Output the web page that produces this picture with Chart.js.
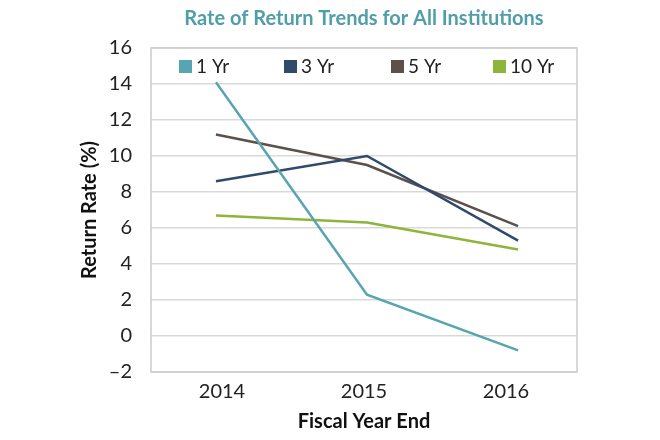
<!DOCTYPE html>
<html>
<head>
<meta charset="utf-8">
<script src="https://cdn.jsdelivr.net/npm/chart.js@4"></script>
<style>
  html, body { margin: 0; padding: 0; background: #fff; }
  #wrap { width: 660px; height: 440px; }
</style>
</head>
<body>
<div id="wrap"><canvas id="c" width="660" height="440"></canvas></div>
<script>
const categories = ['2014', '2015', '2016'];
const seriesNames = ['1 Yr', '3 Yr', '5 Yr', '10 Yr'];
const oneYr = [14.1, 2.3, -0.8];
const threeYr = [8.6, 10.0, 5.3];
const fiveYr = [11.2, 9.5, 6.1];
const tenYr = [6.7, 6.3, 4.8];
const seriesColors = ['#57a5b1', '#2f4a6c', '#5b504c', '#8db53a'];
const yTicks = [-2, 0, 2, 4, 6, 8, 10, 12, 14, 16];

const allSeries = [oneYr, threeYr, fiveYr, tenYr];
const datasets = allSeries.map((vals, i) => ({
  label: seriesNames[i],
  data: vals.map((v, j) => ({ x: j, y: v })),
  borderColor: seriesColors[i],
  backgroundColor: seriesColors[i],
  borderWidth: 2.5,
  pointRadius: 0,
  tension: 0,
  xAxisID: 'xd',
  yAxisID: 'y'
}));

const FONT = 'Lato, "Open Sans", sans-serif';

const frame = {
  id: 'frame',
  afterDatasetsDraw(chart) {
    const { ctx, chartArea: a } = chart;
    ctx.save();
    ctx.strokeStyle = '#cccccc';
    ctx.lineWidth = 1.5;
    ctx.strokeRect(a.left, a.top, a.right - a.left, a.bottom - a.top);
    const items = [
      { x: 179, text: seriesNames[0], c: seriesColors[0] },
      { x: 284, text: seriesNames[1], c: seriesColors[1] },
      { x: 391, text: seriesNames[2], c: seriesColors[2] },
      { x: 493, text: seriesNames[3], c: seriesColors[3] }
    ];
    ctx.font = '19px ' + FONT;
    ctx.textBaseline = 'middle';
    ctx.textAlign = 'left';
    items.forEach(it => {
      ctx.fillStyle = it.c;
      ctx.fillRect(it.x, 60, 13, 13);
      ctx.fillStyle = '#222';
      ctx.fillText(it.text, it.x + 17, 67);
    });
    ctx.restore();
  }
};

new Chart(document.getElementById('c'), {
  type: 'line',
  data: { labels: categories, datasets },
  plugins: [frame],
  options: {
    responsive: false,
    animation: false,
    layout: { padding: { left: 0, right: 83, top: 0, bottom: 0 } },
    plugins: {
      legend: { display: false },
      tooltip: { enabled: false },
      title: {
        display: true,
        text: 'Rate of Return Trends for All Institutions',
        color: '#4f9ea9',
        fullSize: false,
        font: { family: FONT, size: 20, weight: 'bold', lineHeight: 1.2 },
        padding: { top: 7, bottom: 17 }
      }
    },
    scales: {
      x: {
        type: 'category',
        offset: true,
        grid: { display: false, drawTicks: false },
        border: { display: false },
        ticks: { color: '#222', font: { family: FONT, size: 20 }, padding: 8 },
        title: {
          display: true,
          text: 'Fiscal Year End',
          color: '#111',
          font: { family: FONT, size: 20, weight: 'bold', lineHeight: 1.2 },
          padding: { top: 0, bottom: 6 }
        },
        afterFit(s) { s.height = 68; }
      },
      xd: {
        type: 'linear',
        display: false,
        min: -0.43,
        max: 2.39
      },
      y: {
        type: 'linear',
        min: -2,
        max: 16,
        afterBuildTicks(s) { s.ticks = yTicks.map(v => ({ value: v })); },
        grid: { color: '#d9d9d9', lineWidth: 1.5, drawTicks: false },
        border: { display: false },
        ticks: {
          color: '#222',
          font: { family: FONT, size: 20 },
          padding: 19,
          callback: v => (v < 0 ? '\u2013' + Math.abs(v) : String(v))
        },
        title: {
          display: true,
          text: 'Return Rate (%)',
          color: '#111',
          font: { family: FONT, size: 20, weight: 'bold', lineHeight: 1.2 },
          padding: { top: 78, bottom: 0 }
        },
        afterFit(s) { s.width = 151; }
      }
    }
  }
});
</script>
</body>
</html>
